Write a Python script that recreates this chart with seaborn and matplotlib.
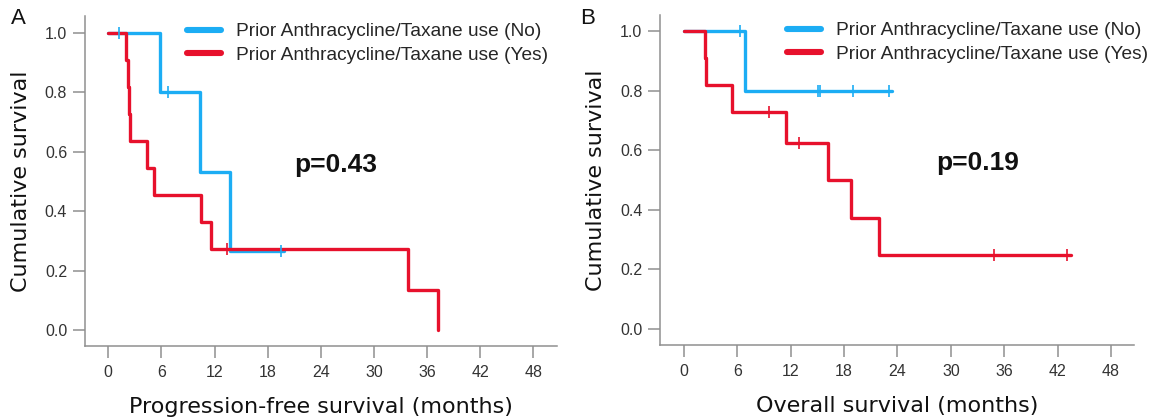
import matplotlib
matplotlib.use("Agg")
import matplotlib.pyplot as plt
from matplotlib.lines import Line2D
import seaborn as sns
import pandas as pd

# ---------------- data ----------------
# Panel A: progression-free survival
pfs_no_time = [0, 5.88, 10.35, 13.77, 19.9]
pfs_no_surv = [1.0, 0.8, 0.533, 0.267, 0.267]
pfs_no_cens_time = [1.17, 6.8, 19.53]
pfs_no_cens_surv = [1.0, 0.8, 0.267]

pfs_yes_time = [0, 2.0, 2.21, 2.38, 2.5, 4.42, 5.13, 10.48, 11.6, 33.85, 37.19]
pfs_yes_surv = [1.0, 0.909, 0.818, 0.727, 0.636, 0.545, 0.455, 0.364, 0.273, 0.136, 0.0]
pfs_yes_cens_time = [13.4]
pfs_yes_cens_surv = [0.273]

# Panel B: overall survival
os_no_time = [0, 6.84, 23.4]
os_no_surv = [1.0, 0.8, 0.8]
os_no_cens_time = [6.3, 15.01, 15.3, 19.02, 23.02]
os_no_cens_surv = [1.0, 0.8, 0.8, 0.8, 0.8]

os_yes_time = [0, 2.38, 2.5, 5.42, 11.47, 16.22, 18.77, 21.89, 43.5]
os_yes_surv = [1.0, 0.909, 0.818, 0.727, 0.623, 0.499, 0.374, 0.249, 0.249]
os_yes_cens_time = [9.51, 12.97, 34.9, 43.04]
os_yes_cens_surv = [0.727, 0.623, 0.249, 0.249]

group_labels = ["Prior Anthracycline/Taxane use (No)",
                "Prior Anthracycline/Taxane use (Yes)"]
p_values = ["p=0.43", "p=0.19"]
panel_letters = ["A", "B"]
x_labels = ["Progression-free survival (months)", "Overall survival (months)"]
y_label = "Cumulative survival"
x_ticks = [0, 6, 12, 18, 24, 30, 36, 42, 48]
y_ticks = [0.0, 0.2, 0.4, 0.6, 0.8, 1.0]

# ---------------- style ----------------
sns.set_style("ticks")
plt.rcParams["font.family"] = ["Liberation Sans", "DejaVu Sans"]

BLUE = "#1CADF4"
RED = "#E7112C"
SPINE = "#8f8f8f"
TICKTXT = "#333333"

fig = plt.figure(figsize=(11.61, 4.18), dpi=100)
axA = fig.add_axes([0.0732, 0.173, 0.4063, 0.7887])
axB = fig.add_axes([0.5685, 0.1746, 0.4083, 0.7895])

panels = [
    dict(ax=axA, no=(pfs_no_time, pfs_no_surv), no_c=(pfs_no_cens_time, pfs_no_cens_surv),
         yes=(pfs_yes_time, pfs_yes_surv), yes_c=(pfs_yes_cens_time, pfs_yes_cens_surv),
         xlim=(-2.63, 50.64), ylim=(-0.0528, 1.056), p_xy=(25.7, 0.556),
         leg_anchor=(187 / 1161, 1 - 23 / 418), letter_xy=(18 / 1161, 1 - 18 / 418)),
    dict(ax=axB, no=(os_no_time, os_no_surv), no_c=(os_no_cens_time, os_no_cens_surv),
         yes=(os_yes_time, os_yes_surv), yes_c=(os_yes_cens_time, os_yes_cens_surv),
         xlim=(-2.70, 50.6), ylim=(-0.054, 1.054), p_xy=(33.05, 0.556),
         leg_anchor=(787 / 1161, 1 - 22 / 418), letter_xy=(588 / 1161, 1 - 18 / 418)),
]

for i, pn in enumerate(panels):
    ax = pn["ax"]
    # curves: blue first, red on top
    for (t, s), col in [(pn["no"], BLUE), (pn["yes"], RED)]:
        df = pd.DataFrame({"t": t, "s": s})
        sns.lineplot(data=df, x="t", y="s", ax=ax, color=col, lw=2.4,
                     drawstyle="steps-post", sort=False, estimator=None)
    for (t, s), col in [(pn["no_c"], BLUE), (pn["yes_c"], RED)]:
        df = pd.DataFrame({"t": t, "s": s})
        sns.lineplot(data=df, x="t", y="s", ax=ax, color=col, linestyle="none",
                     marker="|", markersize=9, markeredgewidth=1.2,
                     markeredgecolor=col, markerfacecolor=col,
                     sort=False, estimator=None)

    ax.set_xlim(*pn["xlim"])
    ax.set_ylim(*pn["ylim"])
    ax.set_xticks(x_ticks)
    ax.set_yticks(y_ticks)
    ax.set_yticklabels([f"{v:.1f}" for v in y_ticks])
    ax.tick_params(axis="both", which="major", direction="out", length=8.5, width=1.1,
                   color=SPINE, labelsize=11.5, labelcolor=TICKTXT, pad=5.2,
                   bottom=True, left=True, top=False, right=False)
    ax.tick_params(axis="y", pad=4.3)
    for side in ["top", "right"]:
        ax.spines[side].set_visible(False)
    for side in ["left", "bottom"]:
        ax.spines[side].set_color(SPINE)
        ax.spines[side].set_linewidth(1.1)

    ax.set_xlabel(x_labels[i], fontsize=16, family="DejaVu Sans", color="#111111")
    ax.set_ylabel(y_label, fontsize=16, family="DejaVu Sans", color="#111111")
    ax.xaxis.label.set_va("center")
    ax.yaxis.label.set_va("center")
    ax.xaxis.set_label_coords(0.5, -0.185)
    ax.yaxis.set_label_coords(-0.135, 0.5)

    ax.text(pn["p_xy"][0], pn["p_xy"][1], p_values[i], fontsize=19, fontweight="bold",
            ha="center", va="center", color="#111111")

    handles = [Line2D([], [], color=BLUE, lw=4.4), Line2D([], [], color=RED, lw=4.4)]
    ax.legend(handles, group_labels, loc="upper left", bbox_to_anchor=pn["leg_anchor"],
              bbox_transform=fig.transFigure, frameon=False, fontsize=13.8,
              handlelength=1.75, handletextpad=0.8, labelspacing=0.3,
              borderpad=0, borderaxespad=0)

    fig.text(pn["letter_xy"][0], pn["letter_xy"][1], panel_letters[i], fontsize=16,
             ha="center", va="center", color="#111111")

fig.savefig("out.png", dpi=100)
